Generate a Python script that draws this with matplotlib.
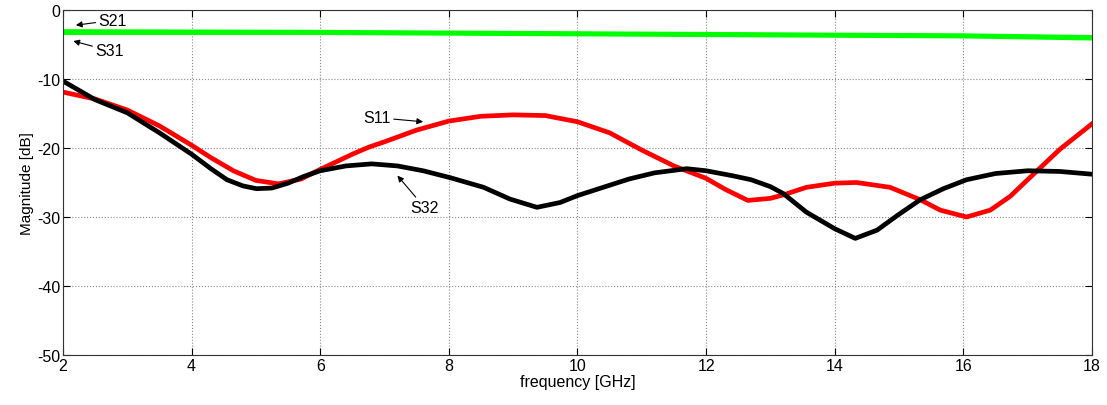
import matplotlib
matplotlib.use("Agg")
import matplotlib.pyplot as plt

plt.rcParams['font.family'] = ['Liberation Sans', 'DejaVu Sans']
plt.rcParams['axes.unicode_minus'] = False

# S11 (reflection) in dB
s11_freq = [2.0, 2.5, 3.0, 3.5, 4.0, 4.3, 4.65, 5.0, 5.35, 5.7, 6.0, 6.25, 6.5,
            6.75, 7.0, 7.5, 8.0, 8.5, 9.0, 9.5, 10.0, 10.5, 11.0, 11.5, 12.0,
            12.3, 12.65, 13.0, 13.2, 13.56, 14.0, 14.34, 14.86, 15.33, 15.64,
            16.05, 16.42, 16.73, 17.0, 17.5, 18.0]
s11_db = [-11.9, -12.9, -14.5, -16.8, -19.6, -21.4, -23.3, -24.7, -25.2, -24.5,
          -23.1, -22.0, -20.9, -19.9, -19.1, -17.4, -16.1, -15.4, -15.2, -15.3,
          -16.2, -17.8, -20.3, -22.6, -24.4, -26.0, -27.6, -27.3, -26.8, -25.7,
          -25.1, -25.0, -25.7, -27.5, -29.0, -30.0, -29.0, -27.0, -24.6, -20.2,
          -16.5]

# S32 (isolation) in dB
s32_freq = [2.0, 2.5, 3.0, 3.5, 4.0, 4.3, 4.55, 4.8, 5.01, 5.25, 5.5, 5.75, 6.0,
            6.4, 6.8, 7.2, 7.6, 8.02, 8.54, 8.95, 9.37, 9.73, 10.0, 10.4, 10.8,
            11.2, 11.7, 12.0, 12.4, 12.7, 13.0, 13.2, 13.56, 14.0, 14.32, 14.66,
            14.97, 15.33, 15.69, 16.05, 16.5, 17.0, 17.5, 18.0]
s32_db = [-10.3, -13.0, -14.9, -17.8, -20.9, -23.0, -24.6, -25.5, -25.9, -25.8,
          -25.1, -24.1, -23.3, -22.6, -22.3, -22.6, -23.3, -24.3, -25.7, -27.4,
          -28.6, -27.9, -26.9, -25.7, -24.5, -23.6, -23.0, -23.3, -24.0, -24.6,
          -25.6, -26.6, -29.3, -31.7, -33.1, -31.9, -29.8, -27.5, -25.9, -24.6,
          -23.7, -23.3, -23.4, -23.8]

# S21 / S31 (coupling to output ports) in dB
thru_freq = [2.0, 6.0, 10.0, 14.0, 16.0, 18.0]
s21_db = [-3.1, -3.2, -3.4, -3.6, -3.7, -3.95]
s31_db = [-3.3, -3.3, -3.5, -3.7, -3.8, -4.1]

fig = plt.figure(figsize=(11.07, 4.06), dpi=100)
ax = fig.add_axes([0.0569, 0.1232, 0.9295, 0.8497])

ax.plot(thru_freq, s21_db, color=(0, 1, 0), lw=3.2, solid_capstyle='butt')
ax.plot(thru_freq, s31_db, color=(0, 1, 0), lw=3.2, solid_capstyle='butt')
ax.plot(s11_freq, s11_db, color=(1, 0, 0), lw=3.4, solid_joinstyle='round')
ax.plot(s32_freq, s32_db, color='black', lw=3.4, solid_joinstyle='round')

ax.set_xlim(2, 18)
ax.set_ylim(-50, 0)
ax.set_xticks(range(2, 19, 2))
ax.set_yticks(range(-50, 1, 10))
ax.grid(True, linestyle=':', color='#888888', lw=0.8)
ax.tick_params(direction='in', length=5, width=0.8, labelsize=11.5, pad=2,
               top=True, right=True)
for sp in ax.spines.values():
    sp.set_linewidth(0.8)
    sp.set_color('#333333')

ax.set_xlabel('frequency [GHz]', fontsize=11.5, labelpad=1)
ax.set_ylabel('Magnitude [dB]', fontsize=11, labelpad=2)

arrow = dict(arrowstyle='-|>', color='black', lw=0.8, mutation_scale=9,
             shrinkA=0, shrinkB=0)
ax.annotate('S21', xy=(2.2, -2.2), xytext=(2.55, -1.5), fontsize=11.5,
            ha='left', va='center', arrowprops=arrow)
ax.annotate('S31', xy=(2.16, -4.5), xytext=(2.5, -5.9), fontsize=11.5,
            ha='left', va='center', arrowprops=arrow)
ax.annotate('S11', xy=(7.6, -16.2), xytext=(7.1, -15.6), fontsize=11.5,
            ha='right', va='center', arrowprops=arrow)
ax.annotate('S32', xy=(7.2, -24.0), xytext=(7.4, -28.6), fontsize=11.5,
            ha='left', va='center', arrowprops=arrow)

fig.savefig('out.png', dpi=100)
